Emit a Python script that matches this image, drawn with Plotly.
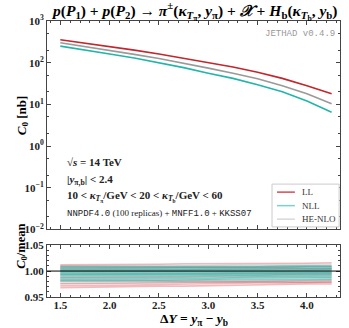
import plotly.graph_objects as go

# Rapidity interval values
delta_y = [1.5, 1.75, 2.0, 2.25, 2.5, 2.75, 3.0, 3.25, 3.5, 3.75, 4.0, 4.25]

# C0 [nb] central values
c0_ll = [355, 295, 245, 200, 162, 129, 102, 79, 59, 42, 28, 18]
c0_nll = [250, 204, 162, 129, 100, 76, 56, 42, 29.5, 20, 12, 6.5]
c0_henlo = [300, 245, 200, 158, 126, 98, 74, 56, 41, 28, 18, 10.3]

# replica / mean ratios
ratio_ll = [
    [1.012, 1.012, 1.013, 1.013, 1.013, 1.014, 1.014, 1.014, 1.015, 1.015, 1.015, 1.016],
    [0.968, 0.969, 0.969, 0.970, 0.971, 0.971, 0.972, 0.973, 0.973, 0.974, 0.975, 0.975],
    [0.982, 0.982, 0.981, 0.981, 0.981, 0.980, 0.980, 0.980, 0.979, 0.979, 0.978, 0.978],
    [1.005, 1.005, 1.006, 1.006, 1.006, 1.007, 1.007, 1.008, 1.008, 1.008, 1.009, 1.009],
    [0.994, 0.994, 0.994, 0.995, 0.995, 0.995, 0.995, 0.996, 0.996, 0.996, 0.996, 0.997],
    [0.976, 0.976, 0.977, 0.977, 0.978, 0.978, 0.979, 0.979, 0.980, 0.981, 0.981, 0.982],
    [1.009, 1.009, 1.008, 1.008, 1.008, 1.007, 1.007, 1.007, 1.006, 1.006, 1.005, 1.005],
    [0.988, 0.988, 0.988, 0.989, 0.989, 0.989, 0.990, 0.990, 0.990, 0.991, 0.991, 0.991],
    [1.001, 1.001, 1.001, 1.002, 1.002, 1.002, 1.003, 1.003, 1.003, 1.004, 1.004, 1.004],
    [0.972, 0.972, 0.973, 0.973, 0.974, 0.975, 0.975, 0.976, 0.977, 0.977, 0.978, 0.979],
]
ratio_henlo = [
    [1.010, 1.010, 1.010, 1.011, 1.011, 1.011, 1.011, 1.012, 1.012, 1.012, 1.013, 1.013],
    [0.976, 0.976, 0.977, 0.977, 0.977, 0.978, 0.978, 0.978, 0.979, 0.979, 0.979, 0.980],
    [0.985, 0.985, 0.985, 0.986, 0.986, 0.986, 0.986, 0.987, 0.987, 0.987, 0.987, 0.988],
    [1.004, 1.004, 1.004, 1.004, 1.005, 1.005, 1.005, 1.005, 1.006, 1.006, 1.006, 1.006],
    [0.993, 0.993, 0.993, 0.993, 0.993, 0.994, 0.994, 0.994, 0.994, 0.994, 0.995, 0.995],
    [0.980, 0.980, 0.981, 0.981, 0.981, 0.982, 0.982, 0.982, 0.983, 0.983, 0.983, 0.984],
    [1.007, 1.007, 1.007, 1.007, 1.007, 1.008, 1.008, 1.008, 1.008, 1.009, 1.009, 1.009],
    [0.998, 0.998, 0.998, 0.998, 0.999, 0.999, 0.999, 0.999, 1.000, 1.000, 1.000, 1.000],
    [0.989, 0.989, 0.989, 0.990, 0.990, 0.990, 0.990, 0.991, 0.991, 0.991, 0.991, 0.992],
    [1.002, 1.002, 1.002, 1.002, 1.002, 1.003, 1.003, 1.003, 1.003, 1.003, 1.004, 1.004],
]
ratio_nll = [
    [1.008, 1.008, 1.008, 1.008, 1.009, 1.009, 1.009, 1.009, 1.009, 1.010, 1.010, 1.010],
    [0.981, 0.981, 0.981, 0.982, 0.982, 0.982, 0.983, 0.983, 0.983, 0.984, 0.984, 0.984],
    [0.987, 0.987, 0.987, 0.987, 0.988, 0.988, 0.988, 0.988, 0.989, 0.989, 0.989, 0.989],
    [1.003, 1.003, 1.003, 1.003, 1.004, 1.004, 1.004, 1.004, 1.004, 1.005, 1.005, 1.005],
    [0.995, 0.995, 0.995, 0.995, 0.995, 0.995, 0.996, 0.996, 0.996, 0.996, 0.996, 0.996],
    [0.984, 0.984, 0.984, 0.985, 0.985, 0.985, 0.985, 0.986, 0.986, 0.986, 0.986, 0.987],
    [1.006, 1.006, 1.006, 1.006, 1.006, 1.007, 1.007, 1.007, 1.007, 1.007, 1.008, 1.008],
    [0.999, 0.999, 0.999, 0.999, 0.999, 1.000, 1.000, 1.000, 1.000, 1.000, 1.001, 1.001],
    [0.991, 0.991, 0.991, 0.991, 0.992, 0.992, 0.992, 0.992, 0.992, 0.993, 0.993, 0.993],
    [1.001, 1.001, 1.001, 1.001, 1.001, 1.002, 1.002, 1.002, 1.002, 1.002, 1.002, 1.003],
    [0.997, 0.997, 0.997, 0.997, 0.997, 0.997, 0.998, 0.998, 0.998, 0.998, 0.998, 0.998],
    [0.993, 0.993, 0.993, 0.993, 0.993, 0.993, 0.994, 0.994, 0.994, 0.994, 0.994, 0.994],
]

legend_names = ["LL", "NLL", "HE-NLO"]
legend_colors = ["rgba(205,45,55,0.85)", "rgba(34,181,168,0.6)", "rgba(200,200,200,0.7)"]

RED = "#c1272d"
TEAL = "#22b5a8"
GRAY = "#9a9a9a"
SERIF = "Liberation Serif"
MONO = "Liberation Mono"

fig = go.Figure()

# ratio replicas (bottom panel)
for reps, col in [(ratio_ll, "rgba(215,60,70,0.35)"),
                  (ratio_henlo, "rgba(160,160,160,0.35)"),
                  (ratio_nll, "rgba(34,181,168,0.45)")]:
    for r in reps:
        fig.add_trace(go.Scatter(x=delta_y, y=r, mode="lines", xaxis="x2", yaxis="y2",
                                 line=dict(color=col, width=1.6), showlegend=False,
                                 hoverinfo="skip"))

# central curves (top panel)
for y, col in [(c0_ll, RED), (c0_henlo, GRAY), (c0_nll, TEAL)]:
    fig.add_trace(go.Scatter(x=delta_y, y=y, mode="lines", line=dict(color=col, width=1.6),
                             showlegend=False))

fig.add_hline(y=1, line=dict(color="black", width=1), xref="x2", yref="y2")

axis_common = dict(showline=True, linecolor="#444", linewidth=1, mirror="allticks",
                   ticks="inside", tickcolor="#444", showgrid=False, zeroline=False,
                   automargin=False, tickfont=dict(family=SERIF, size=11, color="#222"))
xrange_ = [1.365, 4.335]
xticks = [1.5, 2.0, 2.5, 3.0, 3.5, 4.0]

fig.update_layout(
    width=349, height=328,
    margin=dict(l=47, r=9, t=21, b=31),
    plot_bgcolor="white", paper_bgcolor="white",
    showlegend=False,
    xaxis=dict(axis_common, domain=[0, 1], range=xrange_, anchor="y", tickvals=xticks,
               showticklabels=False, ticklen=4,
               minor=dict(ticks="inside", ticklen=2, dtick=0.1, tickcolor="#444")),
    yaxis=dict(axis_common, type="log", domain=[0.245, 1], range=[-2, 3], ticklen=4,
               tickvals=[0.01, 0.1, 1, 10, 100, 1000],
               ticktext=["<b>10<sup>−2</sup></b>", "<b>10<sup>−1</sup></b>", "<b>10<sup>0</sup></b>",
                         "<b>10<sup>1</sup></b>", "<b>10<sup>2</sup></b>", "<b>10<sup>3</sup></b>"],
               minor=dict(ticks="inside", ticklen=2, tickcolor="#444")),
    xaxis2=dict(axis_common, domain=[0, 1], range=xrange_, anchor="y2", tickvals=xticks,
                ticktext=["<b>%.1f</b>" % v for v in xticks], ticklen=4, ticklabelstandoff=-2,
                minor=dict(ticks="inside", ticklen=2, dtick=0.1, tickcolor="#444")),
    yaxis2=dict(axis_common, domain=[0, 0.188], range=[0.95, 1.05], anchor="x2",
                tickvals=[0.95, 1.0, 1.05], ticktext=["<b>0.95</b>", "<b>1.00</b>", "<b>1.05</b>"],
                ticklen=4, minor=dict(ticks="inside", ticklen=2, dtick=0.01, tickcolor="#444")),
)

# axis titles
fig.add_annotation(text="<b><i>C</i><sub>0</sub> [nb]</b>", xref="paper", yref="paper",
                   x=-0.12, y=0.66, textangle=-90, showarrow=False,
                   font=dict(family=SERIF, size=13, color="black"))
fig.add_annotation(text="<b><i>C</i><sub>0</sub>/mean</b>", xref="paper", yref="paper",
                   x=-0.12, y=0.096, textangle=-90, showarrow=False,
                   font=dict(family=SERIF, size=12.5, color="black"))
fig.add_annotation(text="<b>Δ<i>Y</i> = <i>y</i><sub>π</sub> − <i>y</i><sub>b</sub></b>",
                   xref="paper", yref="paper", x=0.5, y=-0.083, yanchor="middle",
                   showarrow=False, font=dict(family=SERIF, size=13.5, color="black"))

fig.add_annotation(
    text="<b><i>p</i>(<i>P</i><sub>1</sub>) + <i>p</i>(<i>P</i><sub>2</sub>) → <i>π</i><sup>±</sup>(<i>κ</i><sub><i>T</i><sub>π</sub></sub>, <i>y</i><sub>π</sub>) + <i>𝒳</i> + <i>H</i><sub>b</sub>(<i>κ</i><sub><i>T</i><sub>b</sub></sub>, <i>y</i><sub>b</sub>)</b>",
    xref="paper", yref="paper", x=0.503, y=1.036, xanchor="center", yanchor="middle",
    showarrow=False, font=dict(family=SERIF, size=15.5, color="black"))
fig.add_annotation(text="JETHAD v0.4.9", xref="paper", yref="paper", x=0.99, y=0.952,
                   xanchor="right", yanchor="middle", showarrow=False,
                   font=dict(family=MONO, size=9, color="#999"))

notes = [
    ("<b>√<i>s</i> = 14 TeV</b>", 11, 0.488),
    ("<b>|<i>y</i><sub>π,b</sub>| < 2.4</b>", 11, 0.423),
    ("<b>10 < <i>κ</i><sub><i>T</i><sub>π</sub></sub>/GeV < 20 < <i>κ</i><sub><i>T</i><sub>b</sub></sub>/GeV < 60</b>", 11, 0.365),
    ("<span style='font-family:Liberation Mono'>NNPDF4.0</span> (100 replicas) + <span style='font-family:Liberation Mono'>MNFF1.0</span> + <span style='font-family:Liberation Mono'>KKSS07</span>",
     9, 0.304),
]
for txt, sz, yy in notes:
    fig.add_annotation(text=txt, xref="paper", yref="paper", x=0.06, y=yy,
                       xanchor="left", yanchor="middle", showarrow=False,
                       font=dict(family=SERIF, size=sz, color="#222"))

# compact legend box
fig.add_shape(type="rect", xref="paper", yref="paper", x0=0.768, x1=0.997, y0=0.254, y1=0.409,
              line=dict(color="#cccccc", width=1), fillcolor="white", layer="above")
for k, (nm, col) in enumerate(zip(legend_names, legend_colors)):
    yy = 0.380 - k * 0.049
    fig.add_shape(type="line", xref="paper", yref="paper", x0=0.785, x1=0.846, y0=yy, y1=yy,
                  line=dict(color=col, width=1.5), layer="above")
    fig.add_annotation(text=nm, xref="paper", yref="paper", x=0.865, y=yy, xanchor="left",
                       yanchor="middle", showarrow=False,
                       font=dict(family=SERIF, size=9, color="#333"))

fig.write_html("out.html", config={"displayModeBar": False},
               post_script="document.body.style.margin='0';")
